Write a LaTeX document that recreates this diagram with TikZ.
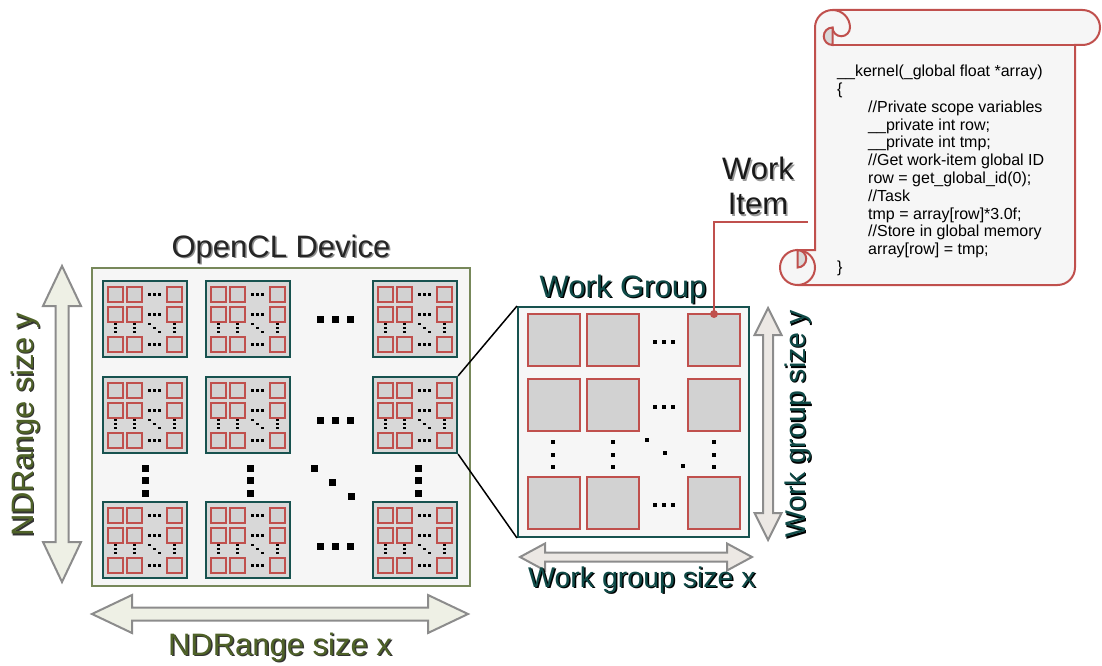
\documentclass[tikz,border=0pt]{standalone}
\usepackage{fontspec}
\setmainfont{Liberation Sans}
\usetikzlibrary{positioning}

\definecolor{olivebox}{HTML}{77885A}
\definecolor{olivetext}{HTML}{4F6228}
\definecolor{tealbox}{HTML}{17524F}
\definecolor{tealtext}{HTML}{0F4A47}
\definecolor{itemred}{HTML}{C0504D}
\definecolor{panelgray}{HTML}{F6F6F6}
\definecolor{tilegray}{HTML}{D8D8D8}
\definecolor{squaregray}{HTML}{D2D2D2}
\definecolor{curlgray}{HTML}{D9D9D9}
\definecolor{arrowedge}{HTML}{8C8C8C}
\definecolor{ndfill}{HTML}{EEF0E5}
\definecolor{wgfill}{HTML}{ECE8E4}

% small black square used for the dots
\newcommand{\dotsq}[3]{\fill ({#1-#3/2},{#2-#3/2}) rectangle ++(#3,#3);}
% hollow double arrows: style, from, to, position, shaft half, head half, head length
\newcommand{\hdarrow}[7]{\filldraw[#1] (#2,#4) -- ({#2+#7},{#4-#6}) -- ({#2+#7},{#4-#5}) -- ({#3-#7},{#4-#5}) -- ({#3-#7},{#4-#6}) -- (#3,#4) -- ({#3-#7},{#4+#6}) -- ({#3-#7},{#4+#5}) -- ({#2+#7},{#4+#5}) -- ({#2+#7},{#4+#6}) -- cycle;}
\newcommand{\vdarrow}[7]{\filldraw[#1] (#4,#2) -- ({#4-#6},{#2+#7}) -- ({#4-#5},{#2+#7}) -- ({#4-#5},{#3-#7}) -- ({#4-#6},{#3-#7}) -- (#4,#3) -- ({#4+#6},{#3-#7}) -- ({#4+#5},{#3-#7}) -- ({#4+#5},{#2+#7}) -- ({#4+#6},{#2+#7}) -- cycle;}

\tikzset{
	device/.style={draw=olivebox, fill=panelgray, line width=2pt, minimum width=378pt, minimum height=318pt, inner sep=0pt},
	group/.style={draw=tealbox, fill=panelgray, line width=2pt, minimum width=231pt, minimum height=230pt, inner sep=0pt},
	tile/.style={draw=tealbox, fill=tilegray, line width=2.2pt, minimum width=84pt, minimum height=76pt, inner sep=0pt},
	minisq/.style={draw=itemred, fill=squaregray, line width=1.1pt, minimum size=15pt, inner sep=0pt},
	itemsq/.style={draw=itemred, fill=squaregray, line width=2.2pt, minimum size=52pt, inner sep=0pt},
	ndarrow/.style={draw=arrowedge, fill=ndfill, line width=2pt, line join=miter},
	wgarrow/.style={draw=arrowedge, fill=wgfill, line width=2pt, line join=miter},
	bigtitle/.style={font=\fontsize{31}{35}\selectfont, inner sep=0pt},
	smalltitle/.style={font=\fontsize{28.5}{32}\selectfont, inner sep=0pt},
	code/.style={font=\fontsize{16}{17.8}\selectfont, align=left, inner sep=0pt},
	scroll/.style={draw=itemred, fill=panelgray, line width=2pt}
}

\begin{document}
\begin{tikzpicture}[x=1pt, y=-1pt]
	\useasboundingbox (0,0) rectangle (1102,666);

	% OpenCL device with its 3x3 work groups
	\node[device] (Device) at (281,427) {};
	\node[bigtitle, anchor=base, text=black!45] (DeviceShadow) at (282.5,258.5) {OpenCL Device};
	\node[bigtitle, anchor=base, text=black!85] (DeviceTitle) at (281,257) {OpenCL Device};

	\foreach \cx/\c in {145/1,248/2,415/3}{
		\foreach \cy/\r in {319/1,415/2,540/3}{
			\node[tile] (T\r\c) at (\cx,\cy) {};
			\foreach \mx/\i in {-29.5/1,-10.5/2,29.5/3}{
				\foreach \my/\j in {-24.5/1,-4.5/2,25.5/3}{
					\node[minisq] (T\r\c-\j\i) at (\cx+\mx,\cy+\my) {};
				}
			}
			\foreach \dx in {4.5,9.5,14.5}{
				\foreach \my in {-24.5,-4.5,25.5}{\dotsq{\cx+\dx}{\cy+\my}{2.4}}
			}
			\foreach \mx in {-29.5,-10.5,29.5}{
				\foreach \dy in {5,9,13}{\dotsq{\cx+\mx}{\cy+\dy}{2.4}}
			}
			\foreach \dx/\dy in {4.5/5,9.5/9,14.5/13}{\dotsq{\cx+\dx}{\cy+\dy}{2.4}}
		}
	}

	% dots between the work groups
	\foreach \cy in {319,420,546}{
		\foreach \cx in {320,335,350}{\dotsq{\cx}{\cy}{7}}
	}
	\foreach \cx in {145,250,418}{
		\foreach \cy in {468,480,493}{\dotsq{\cx}{\cy}{7}}
	}
	\foreach \cx/\cy in {314/468,332/482,351/496}{\dotsq{\cx}{\cy}{7}}

	% NDRange arrows
	\vdarrow{ndarrow}{266}{582}{62}{6.5}{19}{40}
	\hdarrow{ndarrow}{92}{468}{614}{6.5}{19}{40}
	\node[bigtitle, rotate=90, text=black!80] (NDyShadow) at (26.5,426.5) {NDRange size y};
	\node[bigtitle, rotate=90, text=olivetext] (NDy) at (25,425) {NDRange size y};
	\node[bigtitle, anchor=base, text=black!80] (NDxShadow) at (281.5,656.5) {NDRange size x};
	\node[bigtitle, anchor=base, text=olivetext] (NDx) at (280,655) {NDRange size x};

	% one work group, zoomed
	\node[group] (WorkGroup) at (633.5,422) {};
	\node[bigtitle, anchor=base, text=black] (GroupShadow) at (624.5,298.5) {Work Group};
	\node[bigtitle, anchor=base, text=tealtext] (GroupTitle) at (623,297) {Work Group};
	\draw[line width=1.5pt] (T23.north east) -- (WorkGroup.north west);
	\draw[line width=1.5pt] (T23.south east) -- (WorkGroup.south west);

	\foreach \cx/\i in {554/1,613/2,714/3}{
		\foreach \cy/\j in {340/1,405/2,503/3}{
			\node[itemsq] (W\j\i) at (\cx,\cy) {};
		}
	}
	\foreach \cy in {342,407,505}{
		\foreach \cx in {655,664,673}{\dotsq{\cx}{\cy}{3.6}}
	}
	\foreach \cx in {553,613,714}{
		\foreach \cy in {442,455,467}{\dotsq{\cx}{\cy}{3.6}}
	}
	\foreach \cx/\cy in {647/440,665/453,683/466}{\dotsq{\cx}{\cy}{3.6}}

	% work group arrows
	\hdarrow{wgarrow}{520}{752}{557}{4.5}{13.5}{25}
	\vdarrow{wgarrow}{308}{540}{768}{5}{13.5}{27}
	\node[smalltitle, anchor=base, text=black] (WGxShadow) at (643.5,588.5) {Work group size x};
	\node[smalltitle, anchor=base, text=tealtext] (WGx) at (642,587) {Work group size x};
	\node[smalltitle, rotate=90, text=black] (WGyShadow) at (799.5,425.5) {Work group size y};
	\node[smalltitle, rotate=90, text=tealtext] (WGy) at (798,424) {Work group size y};

	% kernel scroll
	\filldraw[scroll] (815,250) -- (815,27.5) arc[start angle=180, end angle=270, radius=17.5] -- (1082.5,10)
		arc[start angle=270, end angle=450, radius=17.5] -- (1075,45) -- (1075,267.5)
		arc[start angle=0, end angle=90, radius=17.5] -- (797.5,285)
		arc[start angle=90, end angle=270, radius=17.5] -- cycle;
	\draw[itemred, line width=2pt] (832.5,45) -- (1075,45);
	\draw[itemred, line width=2pt] (832.5,10) arc[start angle=270, end angle=360, radius=17.5]
		arc[start angle=0, end angle=180, radius=8.75];
	\filldraw[itemred, fill=curlgray, line width=2pt] (832.5,27.5) arc[start angle=270, end angle=90, radius=8.75] -- cycle;
	\filldraw[itemred, fill=curlgray, line width=2pt] (797.5,250) arc[start angle=270, end angle=450, radius=8.75] -- cycle;
	\draw[itemred, line width=2pt] (797.5,250) arc[start angle=270, end angle=450, radius=17.5];
	\node[code, anchor=north west] (KernelCode) at (837,65) {\_\_kernel(\_global float *array)\\
		\{\\
		\hspace*{31pt}//Private scope variables\\
		\hspace*{31pt}\_\_private int row;\\
		\hspace*{31pt}\_\_private int tmp;\\
		\hspace*{31pt}//Get work-item global ID\\
		\hspace*{31pt}row = get\_global\_id(0);\\
		\hspace*{31pt}//Task\\
		\hspace*{31pt}tmp = array[row]*3.0f;\\
		\hspace*{31pt}//Store in global memory\\
		\hspace*{31pt}array[row] = tmp;\\
		\}};

	% work item pointer
	\node[bigtitle, align=center, anchor=north, text=black!40] (ItemShadow) at (759.5,158.5) {Work\\Item};
	\node[bigtitle, align=center, anchor=north, text=black!90] (ItemLabel) at (758,157) {Work\\Item};
	\node[circle, fill=itemred, inner sep=0pt, minimum size=8pt] (ItemDot) at (714,314) {};
	\coordinate (ItemEnd) at (808,222);
	\draw[itemred, line width=1.5pt] (ItemDot.center) -- (ItemDot |- ItemEnd) -- (ItemEnd);
\end{tikzpicture}
\end{document}
